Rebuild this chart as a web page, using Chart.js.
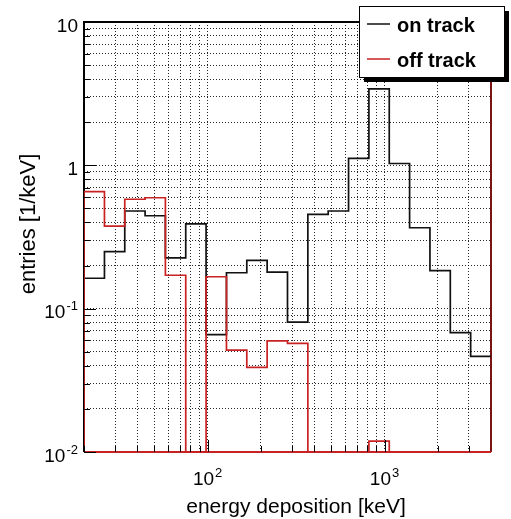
<!DOCTYPE html>
<html>
<head>
<meta charset="utf-8">
<script src="https://cdn.jsdelivr.net/npm/chart.js@4"></script>
<style>
  html, body { margin: 0; padding: 0; background: #fff; }
</style>
</head>
<body>
<canvas id="edepChart" width="511" height="519"></canvas>
<script>
// Bin edges of the energy deposition histogram [keV] (log spaced, 20 bins)
const binEdges = [
    20, 26.1, 34.0, 44.3, 57.7, 75.2, 98.0, 127.8, 166.5, 217.0,
    282.8, 368.6, 480.4, 626.2, 816.1, 1063.7, 1386.3, 1806.8, 2354.9, 3069.2, 4000
];
// Bin contents [1/keV]
const onTrack = [
    0.163, 0.25, 0.48, 0.445, 0.226, 0.39, 0.066, 0.178, 0.217, 0.18,
    0.0806, 0.455, 0.48, 1.12, 3.41, 1.03, 0.367, 0.184, 0.068, 0.0465
];
const offTrack = [
    0.655, 0.377, 0.58, 0.594, 0.171, 0, 0.167, 0.0514, 0.039, 0.0597,
    0.0573, 0, 0, 0, 0.0119, 0, 0, 0, 0, 0
];

// Axis ranges, ticks and labels
const xRange = [20, 4000];
const yRange = [0.01, 10];
const xTickValues = [20, 30, 40, 50, 60, 70, 80, 90, 100, 200, 300, 400, 500, 600, 700, 800, 900, 1000, 2000, 3000];
const yTickValues = [
    0.01, 0.02, 0.03, 0.04, 0.05, 0.06, 0.07, 0.08, 0.09,
    0.1, 0.2, 0.3, 0.4, 0.5, 0.6, 0.7, 0.8, 0.9,
    1, 2, 3, 4, 5, 6, 7, 8, 9, 10
];
const xTickLabels = [[100, '10', '2'], [1000, '10', '3']];
const yTickLabels = [[10, '10', ''], [1, '1', ''], [0.1, '10', '-1'], [0.01, '10', '-2']];

const RED = '#c92222';
const FONT = '"Liberation Sans", Arial, Helvetica, sans-serif';

// histogram -> stepped line points (empty bins sit on the bottom of the frame)
function histPoints(values) {
    const pts = [{ x: binEdges[0], y: yRange[0] }];
    values.forEach((v, i) => pts.push({ x: binEdges[i], y: v > 0 ? v : yRange[0] }));
    pts.push({ x: binEdges[binEdges.length - 1], y: values[values.length - 1] || yRange[0] });
    return pts;
}

function isDecade(v) {
    const l = Math.log10(v);
    return Math.abs(l - Math.round(l)) < 1e-6;
}

// "10" with a superscript exponent, like ROOT draws it
function drawPower(ctx, base, exp, x, y, align) {
    ctx.font = '19px ' + FONT;
    const wb = ctx.measureText(base).width;
    ctx.font = '13px ' + FONT;
    const we = exp ? ctx.measureText(exp).width + 1 : 0;
    const left = align === 'right' ? x - wb - we : x - (wb + we) / 2;
    ctx.textAlign = 'left';
    ctx.textBaseline = 'alphabetic';
    ctx.font = '19px ' + FONT;
    ctx.fillText(base, left, y);
    if (exp) {
        ctx.font = '13px ' + FONT;
        ctx.fillText(exp, left + wb + 1, y - 8);
    }
}

// frame, inner ticks, labels and legend box in ROOT style
const rootStyle = {
    id: 'rootStyle',
    beforeDatasetsDraw(chart) {
        const { ctx, chartArea: a } = chart;
        ctx.save();
        ctx.lineWidth = 2;
        ctx.strokeStyle = '#000';
        ctx.beginPath();
        ctx.moveTo(a.left, a.bottom);
        ctx.lineTo(a.left, a.top);
        ctx.lineTo(a.right, a.top);
        ctx.stroke();
        ctx.strokeStyle = RED;
        ctx.beginPath();
        ctx.moveTo(a.left, a.bottom);
        ctx.lineTo(a.right, a.bottom);
        ctx.stroke();
        ctx.strokeStyle = '#7a1414';
        ctx.beginPath();
        ctx.moveTo(a.right, a.top);
        ctx.lineTo(a.right, a.bottom);
        ctx.stroke();
        ctx.restore();
    },
    afterDatasetsDraw(chart) {
        const { ctx, chartArea: a, scales } = chart;
        ctx.save();
        ctx.strokeStyle = '#000';
        ctx.lineWidth = 1;
        ctx.beginPath();
        yTickValues.forEach(v => {
            const y = Math.round(scales.y.getPixelForValue(v)) + 0.5;
            ctx.moveTo(a.left, y);
            ctx.lineTo(a.left + (isDecade(v) ? 12 : 6), y);
        });
        xTickValues.forEach(v => {
            const x = Math.round(scales.x.getPixelForValue(v)) + 0.5;
            ctx.moveTo(x, a.bottom);
            ctx.lineTo(x, a.bottom - (isDecade(v) ? 12 : 6));
        });
        ctx.stroke();
        ctx.restore();
    },
    afterDraw(chart) {
        const { ctx, chartArea: a, scales } = chart;
        ctx.save();
        ctx.fillStyle = '#000';
        yTickLabels.forEach(([v, b, e]) => drawPower(ctx, b, e, a.left - 6, scales.y.getPixelForValue(v) + 9.5, 'right'));
        xTickLabels.forEach(([v, b, e]) => drawPower(ctx, b, e, scales.x.getPixelForValue(v), a.bottom + 33, 'center'));

        // axis titles
        ctx.font = '21px ' + FONT;
        ctx.textAlign = 'center';
        ctx.textBaseline = 'alphabetic';
        ctx.fillText('energy deposition [keV]', 296, 513);
        ctx.save();
        ctx.font = '22px ' + FONT;
        ctx.translate(35, 224);
        ctx.rotate(-Math.PI / 2);
        ctx.fillText('entries [1/keV]', 0, 0);
        ctx.restore();

        // legend with shadow
        ctx.fillStyle = '#000';
        ctx.fillRect(364, 11, 145, 71);
        ctx.fillStyle = '#fff';
        ctx.fillRect(359, 6, 145, 71);
        ctx.strokeStyle = '#000';
        ctx.lineWidth = 1;
        ctx.strokeRect(359.5, 6.5, 145, 71);
        chart.data.datasets.slice().reverse().forEach((ds, i) => {
            const y = 24 + i * 35;
            ctx.strokeStyle = ds.borderColor;
            ctx.lineWidth = 1.5;
            ctx.beginPath();
            ctx.moveTo(367, y);
            ctx.lineTo(390, y);
            ctx.stroke();
            ctx.fillStyle = '#000';
            ctx.font = 'bold 20px ' + FONT;
            ctx.textAlign = 'left';
            ctx.fillText(ds.label, 397, y + 7.5);
        });
        ctx.restore();
    }
};

const gridStyle = { color: 'rgba(0,0,0,0.85)', lineWidth: 1, drawTicks: false };

const config = {
    type: 'line',
    data: {
        datasets: [{
            label: 'off track',
            data: histPoints(offTrack),
            borderColor: RED,
            borderWidth: 1.7,
            stepped: true,
            pointRadius: 0,
            order: 1
        }, {
            label: 'on track',
            data: histPoints(onTrack),
            borderColor: '#111',
            borderWidth: 1.7,
            stepped: true,
            pointRadius: 0,
            order: 2
        }]
    },
    options: {
        responsive: false,
        animation: false,
        devicePixelRatio: 1,
        layout: { padding: { left: 84, right: 20, top: 22, bottom: 67 } },
        plugins: { legend: { display: false }, tooltip: { enabled: false } },
        scales: {
            x: {
                type: 'logarithmic',
                min: xRange[0],
                max: xRange[1],
                grid: gridStyle,
                border: { display: false, dash: [1, 2] },
                ticks: { display: false },
                afterBuildTicks: s => { s.ticks = xTickValues.map(v => ({ value: v })); },
                afterFit: s => { s.height = 0; }
            },
            y: {
                type: 'logarithmic',
                min: yRange[0],
                max: yRange[1],
                grid: gridStyle,
                border: { display: false, dash: [1, 2] },
                ticks: { display: false },
                afterBuildTicks: s => { s.ticks = yTickValues.map(v => ({ value: v })); },
                afterFit: s => { s.width = 0; }
            }
        }
    },
    plugins: [rootStyle]
};

var edepChart = new Chart(document.getElementById('edepChart'), config);
</script>
</body>
</html>
